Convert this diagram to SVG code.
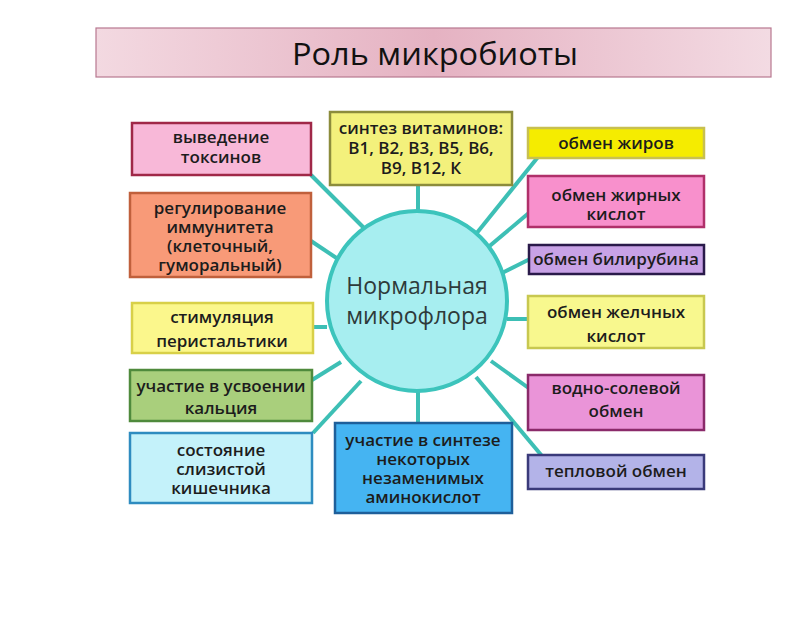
<svg xmlns="http://www.w3.org/2000/svg" width="800" height="621" viewBox="0 0 800 621">
<defs>
<linearGradient id="tg" x1="0" y1="0" x2="1" y2="0">
<stop offset="0" stop-color="#f3d9e1"/>
<stop offset="0.5" stop-color="#e5b2c2"/>
<stop offset="1" stop-color="#f3dbe3"/>
</linearGradient>
</defs>
<style>
.t{font-family:"Open Sans","Noto Sans",sans-serif;font-size:17px;font-weight:600;fill:#1c1c1c;text-anchor:middle}
.c{font-family:"Open Sans","Noto Sans",sans-serif;font-size:23px;fill:#2e3a3a;text-anchor:middle}
.b{stroke-width:2.5}
.ln{stroke:#3dbfb5;stroke-width:4;stroke-linecap:butt;fill:none}
</style>
<rect width="800" height="621" fill="#ffffff"/>
<g id="title">
<rect x="96" y="28" width="675" height="49" fill="url(#tg)" stroke="#b87890" stroke-width="1.2"/>
<text x="435" y="65" font-family="Open Sans, Noto Sans, sans-serif" font-size="31" fill="#111" text-anchor="middle" textLength="286" lengthAdjust="spacingAndGlyphs">Роль микробиоты</text>
</g>
<g id="connectors">
<line class="ln" x1="311" y1="175" x2="364" y2="228"/>
<line class="ln" x1="311" y1="241" x2="338" y2="259"/>
<line class="ln" x1="418" y1="185" x2="418" y2="211"/>
<line class="ln" x1="313" y1="327" x2="327" y2="327"/>
<line class="ln" x1="312" y1="380" x2="341" y2="362"/>
<line class="ln" x1="313" y1="433" x2="361" y2="381"/>
<line class="ln" x1="418" y1="391" x2="418" y2="423"/>
<line class="ln" x1="538" y1="157" x2="476" y2="234"/>
<line class="ln" x1="530" y1="212" x2="486" y2="249"/>
<line class="ln" x1="530" y1="259" x2="502" y2="273"/>
<line class="ln" x1="507" y1="319" x2="528" y2="319"/>
<line class="ln" x1="491" y1="361" x2="530" y2="389"/>
<line class="ln" x1="476" y1="377" x2="542" y2="456"/>
</g>
<g id="center">
<circle cx="417" cy="301" r="90" fill="#a7eef0" stroke="#3cc4bc" stroke-width="4"/>
<text class="c" x="417" y="294">Нормальная</text>
<text class="c" x="417" y="324">микрофлора</text>
</g>
<g id="toxins">
<rect class="b" x="132" y="123" width="179" height="52" fill="#f8b8d8" stroke="#a02848"/>
<text class="t" x="221" y="143">выведение</text>
<text class="t" x="221" y="163">токсинов</text>
</g>
<g id="immunity">
<rect class="b" x="130" y="193" width="181" height="84" fill="#f89a78" stroke="#c0603c"/>
<text class="t" x="220" y="214">регулирование</text>
<text class="t" x="220" y="233">иммунитета</text>
<text class="t" x="220" y="252">(клеточный,</text>
<text class="t" x="220" y="271">гуморальный)</text>
</g>
<g id="peristalsis">
<rect class="b" x="132" y="303" width="181" height="50" fill="#fbf78c" stroke="#d8d048"/>
<text class="t" x="222" y="323">стимуляция</text>
<text class="t" x="222" y="347">перистальтики</text>
</g>
<g id="calcium">
<rect class="b" x="130" y="370" width="182" height="51" fill="#a9cf7c" stroke="#4f8a3c"/>
<text class="t" x="221" y="392">участие в усвоении</text>
<text class="t" x="221" y="414">кальция</text>
</g>
<g id="mucosa">
<rect class="b" x="130" y="433" width="182" height="70" fill="#c4f2fa" stroke="#2e8cc0"/>
<text class="t" x="221" y="456">состояние</text>
<text class="t" x="221" y="475">слизистой</text>
<text class="t" x="221" y="494">кишечника</text>
</g>
<g id="vitamins">
<rect class="b" x="330" y="112" width="182" height="73" fill="#f3f17c" stroke="#8c8c3c"/>
<text class="t" x="421" y="134">синтез витаминов:</text>
<text class="t" x="421" y="154">В1, В2, В3, В5, В6,</text>
<text class="t" x="421" y="174">В9, В12, К</text>
</g>
<g id="aminoacids">
<rect class="b" x="335" y="423" width="177" height="90" fill="#45b4f2" stroke="#1e5f9a"/>
<text class="t" x="423" y="446">участие в синтезе</text>
<text class="t" x="423" y="465">некоторых</text>
<text class="t" x="423" y="484">незаменимых</text>
<text class="t" x="423" y="503">аминокислот</text>
</g>
<g id="fats">
<rect class="b" x="528" y="128" width="176" height="30" fill="#f5ec00" stroke="#c8c050"/>
<text class="t" x="616" y="149">обмен жиров</text>
</g>
<g id="fattyacids">
<rect class="b" x="528" y="176" width="176" height="51" fill="#f890cc" stroke="#b0306a"/>
<text class="t" x="616" y="201">обмен жирных</text>
<text class="t" x="616" y="220">кислот</text>
</g>
<g id="bilirubin">
<rect class="b" x="529" y="245" width="175" height="29" fill="#c8a2e6" stroke="#2a1a4a"/>
<text class="t" x="616" y="265">обмен билирубина</text>
</g>
<g id="bileacids">
<rect class="b" x="528" y="296" width="176" height="52" fill="#f8f88e" stroke="#c8c850"/>
<text class="t" x="616" y="318">обмен желчных</text>
<text class="t" x="616" y="342">кислот</text>
</g>
<g id="watersalt">
<rect class="b" x="528" y="375" width="176" height="55" fill="#ea94d8" stroke="#8a2a6a"/>
<text class="t" x="616" y="394">водно-солевой</text>
<text class="t" x="616" y="417">обмен</text>
</g>
<g id="heat">
<rect class="b" x="528" y="455" width="176" height="34" fill="#b3b3e8" stroke="#3a3a7a"/>
<text class="t" x="616" y="477">тепловой обмен</text>
</g>
</svg>
